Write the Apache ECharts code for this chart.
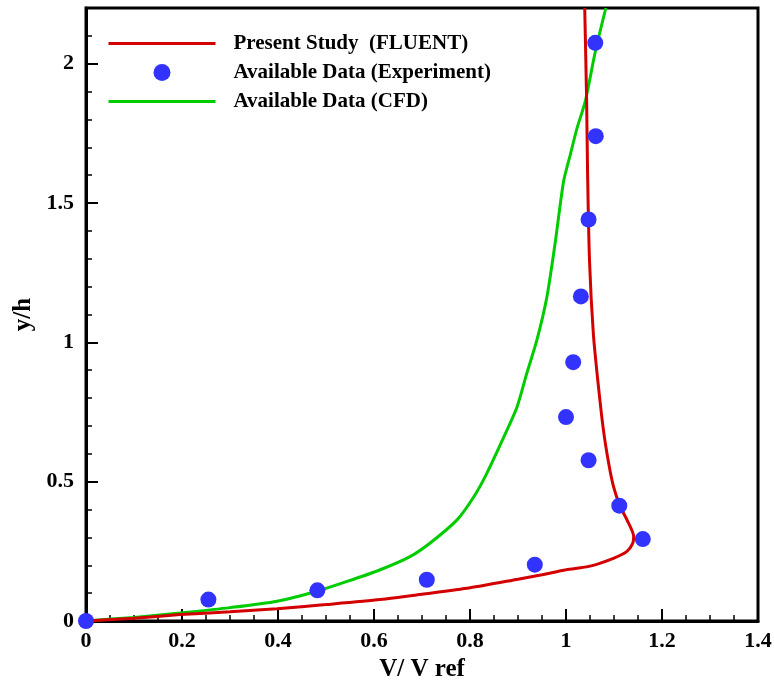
<!DOCTYPE html>
<html><head><meta charset="utf-8">
<script src="https://cdn.jsdelivr.net/npm/echarts@6/dist/echarts.min.js"></script>
<style>html,body{margin:0;padding:0;background:#fff}#c{width:774px;height:682px}</style>
</head><body><div id="c"></div>
<script>
// Present Study (FLUENT): [V/Vref, y/h]
const fluentX = [0, 0.1, 0.196, 0.3, 0.398, 0.5, 0.613, 0.7, 0.8, 0.9, 0.95, 1.0, 1.05, 1.1, 1.127, 1.139, 1.141, 1.127, 1.113, 1.099, 1.089, 1.078, 1.067, 1.057, 1.049, 1.045, 1.043, 1.039];
const fluentY = [0, 0.010, 0.023, 0.033, 0.044, 0.059, 0.077, 0.096, 0.119, 0.150, 0.166, 0.184, 0.197, 0.226, 0.250, 0.279, 0.303, 0.363, 0.410, 0.482, 0.565, 0.685, 0.851, 1.030, 1.292, 1.602, 1.864, 2.2];
// Available Data (Experiment)
const expX = [0, 0.255, 0.482, 0.710, 0.935, 1.160, 1.111, 1.047, 1.000, 1.015, 1.031, 1.047, 1.062, 1.061];
const expY = [0, 0.077, 0.110, 0.148, 0.202, 0.294, 0.414, 0.577, 0.732, 0.929, 1.165, 1.441, 1.740, 2.075];
// Available Data (CFD)
const cfdX = [0, 0.1, 0.196, 0.3, 0.398, 0.481, 0.544, 0.613, 0.676, 0.717, 0.773, 0.808, 0.835, 0.877, 0.898, 0.918, 0.939, 0.960, 0.978, 0.995, 1.009, 1.023, 1.040, 1.061, 1.083];
const cfdY = [0, 0.013, 0.029, 0.048, 0.071, 0.107, 0.142, 0.184, 0.232, 0.280, 0.363, 0.446, 0.530, 0.685, 0.768, 0.887, 1.006, 1.161, 1.364, 1.578, 1.674, 1.769, 1.864, 2.043, 2.2];
const xTicks = [0, 0.2, 0.4, 0.6, 0.8, 1, 1.2, 1.4];
const yTicks = [0, 0.5, 1, 1.5, 2];
const seriesNames = ['Present Study  (FLUENT)', 'Available Data (Experiment)', 'Available Data (CFD)'];

const pair = (xs, ys) => xs.map((x, i) => [x, ys[i]]);
const font = '"Liberation Serif", "DejaVu Serif", serif';
const chart = echarts.init(document.getElementById('c'));
const tickLabel = {fontFamily: font, fontWeight: 'bold', fontSize: 22, color: '#000'};
chart.setOption({
  animation: false,
  backgroundColor: '#fff',
  grid: {left: 86, right: 16, top: 8, bottom: 61, show: true, borderColor: '#000', borderWidth: 3, outerBoundsMode: 'none', containLabel: false},
  legend: {
    left: 107, top: 33, padding: 0, orient: 'vertical', itemWidth: 107, itemHeight: 17, itemGap: 8,
    data: [
      {name: seriesNames[0], itemStyle: {opacity: 0}, lineStyle: {width: 3}},
      {name: seriesNames[1]},
      {name: seriesNames[2], itemStyle: {opacity: 0}, lineStyle: {width: 3}}
    ],
    textStyle: {fontFamily: font, fontWeight: 'bold', fontSize: 21, color: '#000', padding: [0, 0, 0, 13]}
  },
  xAxis: [{
    type: 'value', min: 0, max: 1.4, interval: 0.2,
    name: 'V/ V ref', nameLocation: 'middle', nameGap: 29,
    nameTextStyle: {fontFamily: font, fontWeight: 'bold', fontSize: 25, color: '#000'},
    axisLine: {show: true, lineStyle: {color: '#000', width: 3}},
    axisTick: {show: true, inside: true, length: 12, lineStyle: {color: '#000', width: 2}},
    axisLabel: Object.assign({margin: 9, formatter: v => xTicks.includes(+v.toFixed(2)) ? String(+v.toFixed(2)) : ''}, tickLabel),
    splitLine: {show: false}
  }, {
    type: 'value', min: 0, max: 1.4, interval: 0.05, position: 'bottom',
    axisLine: {show: false},
    axisTick: {show: true, inside: true, length: 6, lineStyle: {color: '#000', width: 1.5}},
    axisLabel: {show: false}, splitLine: {show: false}
  }],
  yAxis: [{
    type: 'value', min: 0, max: 2.2, interval: 0.5,
    name: 'y/h', nameLocation: 'middle', nameGap: 49, nameRotate: 90,
    nameTextStyle: {fontFamily: font, fontWeight: 'bold', fontSize: 25, color: '#000'},
    axisLine: {show: true, lineStyle: {color: '#000', width: 3}},
    axisTick: {show: true, inside: true, length: 12, lineStyle: {color: '#000', width: 2}},
    axisLabel: Object.assign({margin: 12, showMaxLabel: false, formatter: v => yTicks.includes(+v.toFixed(2)) ? String(+v.toFixed(2)) : ''}, tickLabel),
    splitLine: {show: false}
  }, {
    type: 'value', min: 0, max: 2.2, interval: 0.1, position: 'left',
    axisLine: {show: false},
    axisTick: {show: true, inside: true, length: 6, lineStyle: {color: '#000', width: 1.5}},
    axisLabel: {show: false}, splitLine: {show: false}
  }],
  series: [{
    name: seriesNames[0], type: 'line', data: pair(fluentX, fluentY), symbol: 'none', smooth: 0.25,
    lineStyle: {color: '#d40000', width: 3}, itemStyle: {color: '#d40000'}, z: 3
  }, {
    name: seriesNames[1], type: 'scatter', data: pair(expX, expY), symbol: 'circle', symbolSize: 16,
    itemStyle: {color: '#3333ff', opacity: 1}, z: 4
  }, {
    name: seriesNames[2], type: 'line', data: pair(cfdX, cfdY), symbol: 'none', smooth: 0.25,
    lineStyle: {color: '#00cc00', width: 3}, itemStyle: {color: '#00cc00'}, z: 2
  }]
});
</script></body></html>
